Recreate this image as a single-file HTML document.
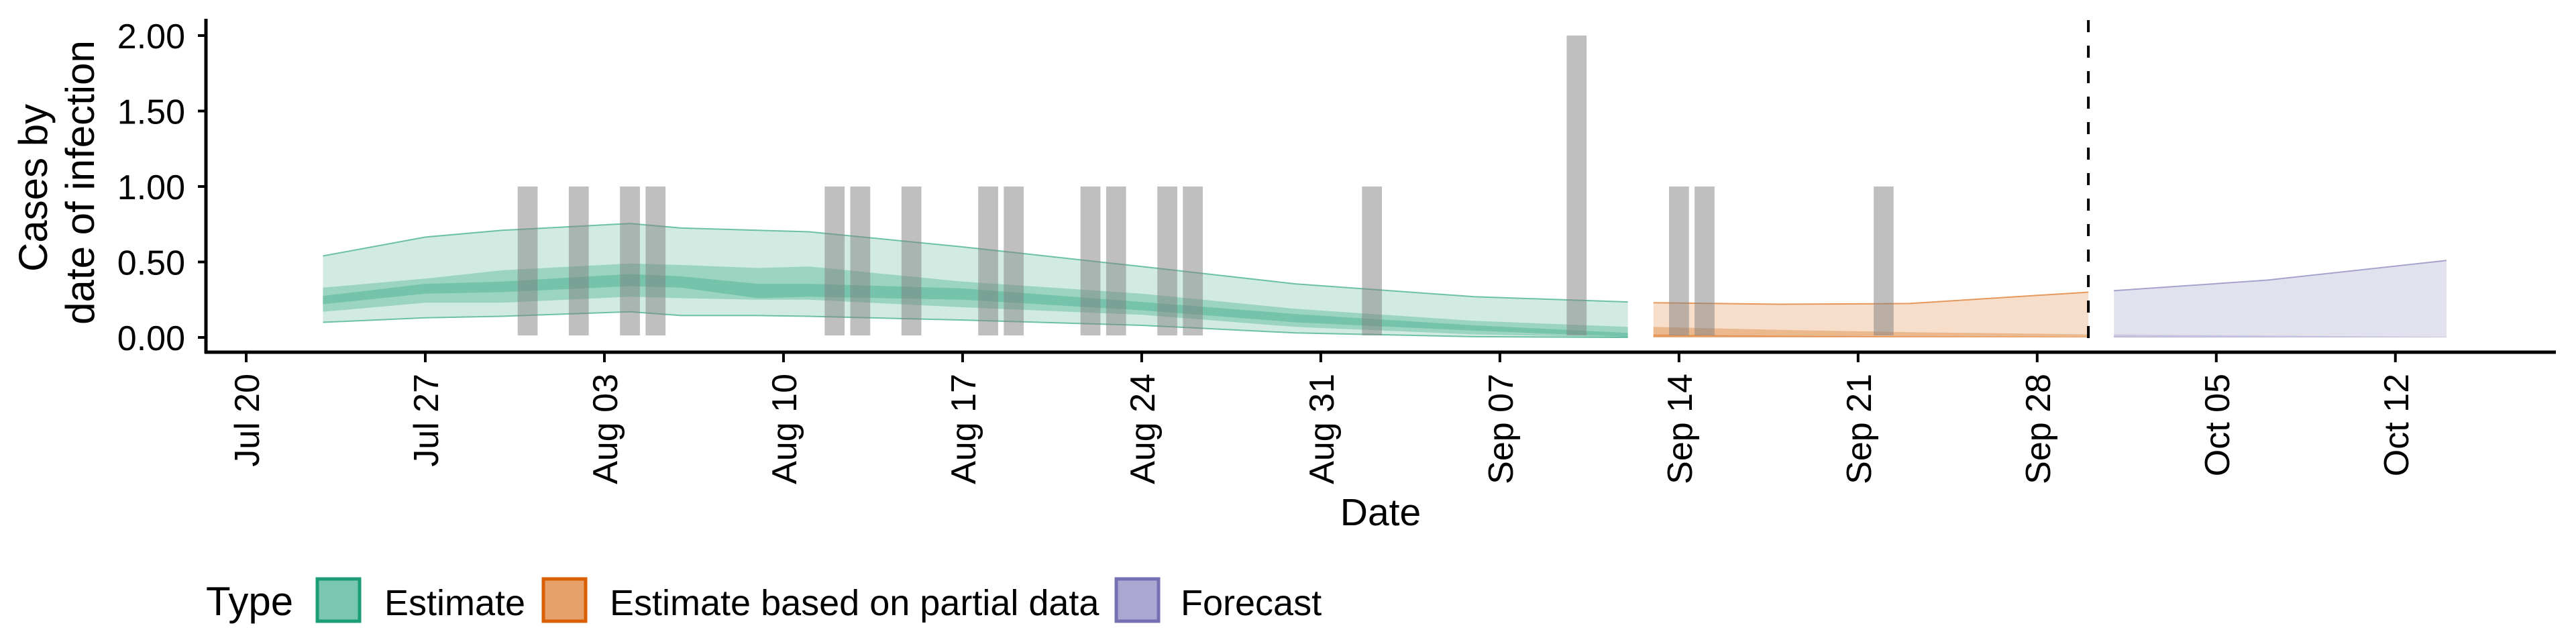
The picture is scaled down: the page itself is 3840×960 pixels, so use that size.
<!DOCTYPE html>
<html><head><meta charset="utf-8"><style>
html,body{margin:0;padding:0;background:#fff;}
svg{display:block;font-family:"Liberation Sans",sans-serif;}
</style></head><body>
<svg id="chart" width="3840" height="960" viewBox="0 0 3840 960" xmlns="http://www.w3.org/2000/svg">
<g id="bands"></g>
<g id="bars"></g>
<g id="axes"></g>
<text x="2058" y="783" font-size="57" text-anchor="middle">Date</text>
<text transform="translate(70,280) rotate(-90)" font-size="60" text-anchor="middle">Cases by</text>
<text transform="translate(140,272) rotate(-90)" font-size="60" text-anchor="middle">date of infection</text>
<g>
<text x="307" y="917" font-size="60">Type</text>
<rect x="473" y="863" width="63" height="63" fill="#7bc6ae" stroke="#1b9e77" stroke-width="5"/>
<text x="573" y="917" font-size="54">Estimate</text>
<rect x="810" y="863" width="63" height="63" fill="#e8a06a" stroke="#d95f02" stroke-width="5"/>
<text x="909" y="917" font-size="54">Estimate based on partial data</text>
<rect x="1664" y="863" width="63" height="63" fill="#aaa8d0" stroke="#7570b3" stroke-width="5"/>
<text x="1760" y="917" font-size="54">Forecast</text>
</g>
</svg>
<script>
// ---- data ----
const barDates = ["2020-07-31","2020-08-02","2020-08-04","2020-08-05","2020-08-12","2020-08-13","2020-08-15","2020-08-18","2020-08-19","2020-08-22","2020-08-23","2020-08-25","2020-08-26","2020-09-02","2020-09-10","2020-09-14","2020-09-15","2020-09-22"];
const barValues = [1,1,1,1,1,1,1,1,1,1,1,1,1,1,2,1,1,1];

const estDates = ["2020-07-23","2020-07-27","2020-07-30","2020-08-04","2020-08-06","2020-08-09","2020-08-11","2020-08-17","2020-08-24","2020-08-30","2020-09-06","2020-09-12"];
const estU90 = [0.54,0.665,0.71,0.755,0.725,0.71,0.70,0.60,0.47,0.355,0.27,0.235];
const estU50 = [0.33,0.39,0.445,0.49,0.48,0.46,0.47,0.37,0.29,0.19,0.11,0.07];
const estU20 = [0.275,0.355,0.37,0.42,0.405,0.355,0.355,0.325,0.235,0.155,0.08,0.03];
const estL20 = [0.22,0.29,0.30,0.34,0.33,0.26,0.27,0.25,0.18,0.10,0.045,0.005];
const estL50 = [0.17,0.23,0.23,0.27,0.26,0.25,0.25,0.20,0.15,0.07,0.02,0.0];
const estL90 = [0.10,0.13,0.14,0.17,0.145,0.145,0.14,0.115,0.08,0.03,0.005,0.0];

const partDates = ["2020-09-13","2020-09-18","2020-09-23","2020-09-30"];
const partU90 = [0.23,0.22,0.225,0.30];
const partU50 = [0.07,0.05,0.035,0.02];
const partU20 = [0.02,0.012,0.008,0.004];
const partL20 = [0.004,0.003,0.002,0.001];
const partL50 = [0,0,0,0];
const partL90 = [0,0,0,0];

const foreDates = ["2020-10-01","2020-10-07","2020-10-14"];
const foreU90 = [0.31,0.38,0.51];
const foreU50 = [0.02,0.012,0.003];
const foreU20 = [0.005,0.003,0.001];
const foreL20 = [0,0,0];
const foreL50 = [0,0,0];
const foreL90 = [0,0,0];

const xTickLabels = ["Jul 20","Jul 27","Aug 03","Aug 10","Aug 17","Aug 24","Aug 31","Sep 07","Sep 14","Sep 21","Sep 28","Oct 05","Oct 12"];
const xTickDates = ["2020-07-20","2020-07-27","2020-08-03","2020-08-10","2020-08-17","2020-08-24","2020-08-31","2020-09-07","2020-09-14","2020-09-21","2020-09-28","2020-10-05","2020-10-12"];
const yTicks = [0,0.5,1,1.5,2];
const yTickLabels = ["0.00","0.50","1.00","1.50","2.00"];
const forecastLineDate = "2020-09-30";

// ---- scales ----
const NS="http://www.w3.org/2000/svg";
const origin = Date.UTC(2020,6,20);
function day(s){const p=s.split('-');return (Date.UTC(+p[0],+p[1]-1,+p[2])-origin)/86400000;}
function xs(s){return 367 + day(s)*38.14;}
function ys(v){return 503 - v*225;}
function mk(tag,attrs,parent){const e=document.createElementNS(NS,tag);for(const k in attrs)e.setAttribute(k,attrs[k]);parent.appendChild(e);return e;}

const bands=document.getElementById('bands');
function ribbon(dates,up,lo,fill,name){
  let d='';
  dates.forEach((t,i)=>{d+=(i?'L':'M')+xs(t).toFixed(1)+','+ys(up[i]).toFixed(1);});
  for(let i=dates.length-1;i>=0;i--)d+='L'+xs(dates[i]).toFixed(1)+','+ys(lo[i]).toFixed(1);
  const p=mk('path',{d:d+'Z',fill:fill},bands);
  
  
}
function edge(dates,vals,stroke,name){
  const pts=dates.map((t,i)=>xs(t).toFixed(1)+','+ys(vals[i]).toFixed(1)).join(' ');
  const l=mk('polyline',{points:pts,fill:'none',stroke:stroke,'stroke-width':2,'stroke-opacity':0.6},bands);
  
  
}
ribbon(estDates,estU90,estL90,'#d2ebe2','estimate-90-band');
ribbon(estDates,estU50,estL50,'#9bd4c1','estimate-50-band');
ribbon(estDates,estU20,estL20,'#74c3aa','estimate-20-band');
edge(estDates,estU90,'#1b9e77','estimate-upper-edge');
edge(estDates,estL90,'#1b9e77','estimate-lower-edge');
ribbon(partDates,partU90,partL90,'#f6decb','partial-90-band');
ribbon(partDates,partU50,partL50,'#ecb88e','partial-50-band');
ribbon(partDates,partU20,partL20,'#e5995c','partial-20-band');
edge(partDates,partU90,'#d95f02','partial-upper-edge');
ribbon(foreDates,foreU90,foreL90,'#e2e2ef','forecast-90-band');
ribbon(foreDates,foreU50,foreL50,'#c9c7e1','forecast-50-band');
ribbon(foreDates,foreU20,foreL20,'#b0acd4','forecast-20-band');
edge(foreDates,foreU90,'#7570b3','forecast-upper-edge');

const bars=document.getElementById('bars');
const bw=0.78*38.14;
barDates.forEach((t,i)=>{
  const r=mk('rect',{x:(xs(t)-bw/2).toFixed(1),y:ys(barValues[i]).toFixed(1),width:bw.toFixed(1),height:(ys(0)-3-ys(barValues[i])).toFixed(1),fill:'#808080','fill-opacity':0.5},bars);
  
  
});

const axes=document.getElementById('axes');
const vl=mk('line',{x1:xs(forecastLineDate),x2:xs(forecastLineDate),y1:30,y2:525,stroke:'#000','stroke-width':4,'stroke-dasharray':'18,20'},axes);


const ya=mk('line',{x1:307,x2:307,y1:28,y2:527,stroke:'#000','stroke-width':5},axes);


const xa=mk('line',{x1:305,x2:3810,y1:525,y2:525,stroke:'#000','stroke-width':5},axes);


yTicks.forEach((v,i)=>{
  const tk=mk('line',{x1:295,x2:307,y1:ys(v),y2:ys(v),stroke:'#000','stroke-width':4},axes);
  
  
  const tx=mk('text',{x:276,y:ys(v)+19,'font-size':52,'text-anchor':'end'},axes);
  tx.textContent=yTickLabels[i];
  
  
});
xTickDates.forEach((t,i)=>{
  const x=xs(t);
  const tk=mk('line',{x1:x,x2:x,y1:525,y2:540,stroke:'#000','stroke-width':4},axes);
  
  
  const tx=mk('text',{transform:'translate('+(x+19).toFixed(1)+',557) rotate(-90)','font-size':52,'text-anchor':'end'},axes);
  tx.textContent=xTickLabels[i];
  
  
});
</script>
</body></html>
